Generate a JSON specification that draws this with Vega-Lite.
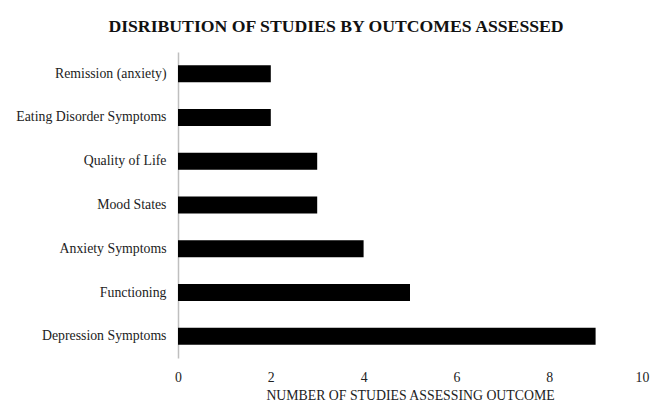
{
  "$schema": "https://vega.github.io/schema/vega-lite/v6.json",
  "autosize": {"type": "none"},
  "width": 464,
  "height": 306,
  "padding": {"left": 178, "top": 52, "right": 16, "bottom": 60},
  "background": "white",
  "title": {
    "text": "DISRIBUTION OF STUDIES BY OUTCOMES ASSESSED",
    "font": "Liberation Serif",
    "fontSize": 17.7,
    "fontWeight": "bold",
    "color": "#111111",
    "anchor": "middle",
    "offset": 16,
    "dx": -74
  },
  "data": {
    "values": [
      {"outcome": "Remission (anxiety)", "count": 2},
      {"outcome": "Eating Disorder Symptoms", "count": 2},
      {"outcome": "Quality of Life", "count": 3},
      {"outcome": "Mood States", "count": 3},
      {"outcome": "Anxiety Symptoms", "count": 4},
      {"outcome": "Functioning", "count": 5},
      {"outcome": "Depression Symptoms", "count": 9}
    ]
  },
  "mark": {"type": "bar", "color": "#000000"},
  "encoding": {
    "y": {
      "field": "outcome",
      "type": "nominal",
      "sort": null,
      "scale": {"paddingInner": 0.61, "paddingOuter": 0.3},
      "axis": {
        "title": null,
        "ticks": false,
        "labelPadding": 12,
        "labelFont": "Liberation Serif",
        "labelFontSize": 13.8,
        "labelColor": "#222222",
        "domainColor": "#bfbfbf",
        "domainWidth": 1.5,
        "labelLimit": 300
      }
    },
    "x": {
      "field": "count",
      "type": "quantitative",
      "scale": {"domain": [0, 10], "nice": false},
      "axis": {
        "values": [0, 2, 4, 6, 8, 10],
        "title": "NUMBER OF STUDIES ASSESSING OUTCOME",
        "titleFont": "Liberation Serif",
        "titleFontSize": 13.8,
        "titleFontWeight": "normal",
        "titleColor": "#222222",
        "titlePadding": 5,
        "domain": false,
        "ticks": false,
        "grid": false,
        "labelFlush": false,
        "labelPadding": 12,
        "labelFont": "Liberation Serif",
        "labelFontSize": 13.8,
        "labelColor": "#222222"
      }
    }
  },
  "config": {"view": {"stroke": null}}
}
